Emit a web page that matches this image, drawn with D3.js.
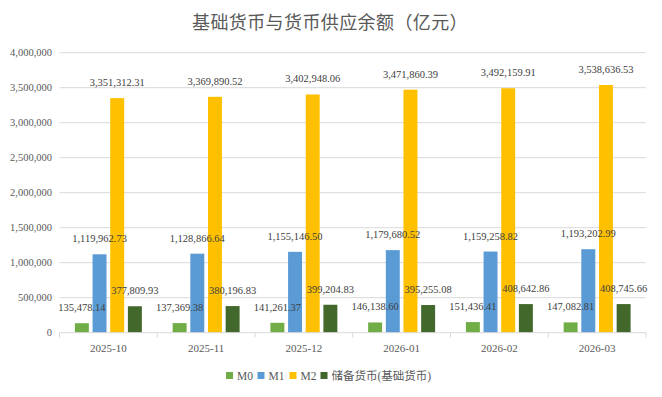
<!DOCTYPE html>
<html lang="zh">
<head>
    <meta charset="UTF-8">
    <title>基础货币与货币供应余额</title>
    <script src="https://cdn.jsdelivr.net/npm/d3@7"></script>
    <style>
        body {
            margin: 0;
            background: white;
        }
        svg {
            font-family: "Liberation Serif", "Times New Roman", "Noto Sans CJK SC", serif;
        }
        .tick-label {
            font-size: 10.5px;
            fill: #595959;
        }
        .data-label {
            font-size: 10.5px;
            fill: #404040;
            text-anchor: middle;
        }
    </style>
</head>
<body>
    <div class="svg-container"></div>
    <script>
        // data
        const months = ["2025-10", "2025-11", "2025-12", "2026-01", "2026-02", "2026-03"];
        const seriesNames = ["M0", "M1", "M2", "储备货币(基础货币)"];
        const m0 = [135478.14, 137369.38, 141261.37, 146138.60, 151436.41, 147082.81];
        const m1 = [1119962.73, 1128866.64, 1155146.50, 1179680.52, 1159258.82, 1193202.99];
        const m2 = [3351312.31, 3369890.52, 3402948.06, 3471860.39, 3492159.91, 3538636.53];
        const reserve = [377809.93, 380196.83, 399204.83, 395255.08, 408642.86, 408745.66];
        const yTicks = [0, 500000, 1000000, 1500000, 2000000, 2500000, 3000000, 3500000, 4000000];

        const colors = ["#70AD47", "#5B9BD5", "#FFC000", "#43682B"];
        const allSeries = [m0, m1, m2, reserve];

        const width = 662;
        const height = 397;
        const plotLeft = 59.5, plotRight = 646, plotTop = 52.7, plotBottom = 332.7;

        const svg = d3.select(".svg-container").append("svg")
            .attr("width", width)
            .attr("height", height);

        // title
        svg.append("text")
            .attr("x", 330)
            .attr("y", 29)
            .attr("text-anchor", "middle")
            .attr("font-family", "'Noto Sans CJK SC', sans-serif")
            .attr("font-size", "18px")
            .attr("letter-spacing", "0.4px")
            .attr("fill", "#595959")
            .text("基础货币与货币供应余额（亿元）");

        const x0 = d3.scaleBand()
            .domain(months)
            .range([plotLeft, plotRight]);

        const x1 = d3.scaleBand()
            .domain(d3.range(4))
            .range([15.4, x0.bandwidth() - 15.4])
            .paddingInner(0.21);

        const y = d3.scaleLinear()
            .domain([0, 4000000])
            .range([plotBottom, plotTop]);

        // gridlines
        svg.append("g")
            .selectAll("line")
            .data(yTicks.slice(1))
            .enter().append("line")
            .attr("x1", plotLeft)
            .attr("x2", plotRight)
            .attr("y1", d => y(d))
            .attr("y2", d => y(d))
            .style("stroke", "#d9d9d9")
            .style("stroke-width", 1);

        // y axis labels
        svg.append("g")
            .selectAll("text")
            .data(yTicks)
            .enter().append("text")
            .attr("class", "tick-label")
            .attr("x", 52)
            .attr("y", d => y(d) + 3.5)
            .attr("text-anchor", "end")
            .text(d => d3.format(",")(d));

        // bars
        const groups = svg.append("g")
            .selectAll("g")
            .data(months)
            .enter().append("g")
            .attr("transform", d => "translate(" + x0(d) + ",0)");

        groups.selectAll("rect")
            .data((d, i) => allSeries.map((s, k) => ({ k: k, v: s[i] })))
            .enter().append("rect")
            .attr("x", d => x1(d.k))
            .attr("width", x1.bandwidth())
            .attr("y", d => y(d.v))
            .attr("height", d => plotBottom - y(d.v))
            .style("fill", d => colors[d.k]);

        // x axis line + category ticks
        svg.append("line")
            .attr("x1", plotLeft).attr("x2", plotRight)
            .attr("y1", plotBottom).attr("y2", plotBottom)
            .style("stroke", "#d9d9d9");
        svg.append("g")
            .selectAll("line")
            .data(d3.range(months.length + 1))
            .enter().append("line")
            .attr("x1", i => plotLeft + i * x0.step())
            .attr("x2", i => plotLeft + i * x0.step())
            .attr("y1", plotBottom)
            .attr("y2", plotBottom + 5)
            .style("stroke", "#d9d9d9");

        svg.append("g")
            .selectAll("text")
            .data(months)
            .enter().append("text")
            .attr("x", d => x0(d) + x0.bandwidth() / 2)
            .attr("y", 352)
            .attr("text-anchor", "middle")
            .attr("font-size", "11px")
            .attr("fill", "#595959")
            .text(d => d);

        // data labels
        groups.selectAll("text")
            .data((d, i) => allSeries.map((s, k) => ({ k: k, v: s[i] })))
            .enter().append("text")
            .attr("class", "data-label")
            .attr("x", d => x1(d.k) + x1.bandwidth() / 2)
            .attr("y", d => y(d.v) - 12)
            .text(d => d3.format(",.2f")(d.v));

        // legend
        const legendX = [226, 257.5, 289.5, 320.5];
        const legend = svg.append("g")
            .selectAll("g")
            .data(seriesNames)
            .enter().append("g")
            .attr("transform", (d, i) => "translate(" + legendX[i] + ",372)");

        legend.append("rect")
            .attr("width", 7)
            .attr("height", 7)
            .style("fill", (d, i) => colors[i]);

        legend.append("text")
            .attr("x", 11)
            .attr("y", 8)
            .attr("font-size", "11.5px")
            .attr("fill", "#595959")
            .text(d => d);
    </script>
</body>
</html>
